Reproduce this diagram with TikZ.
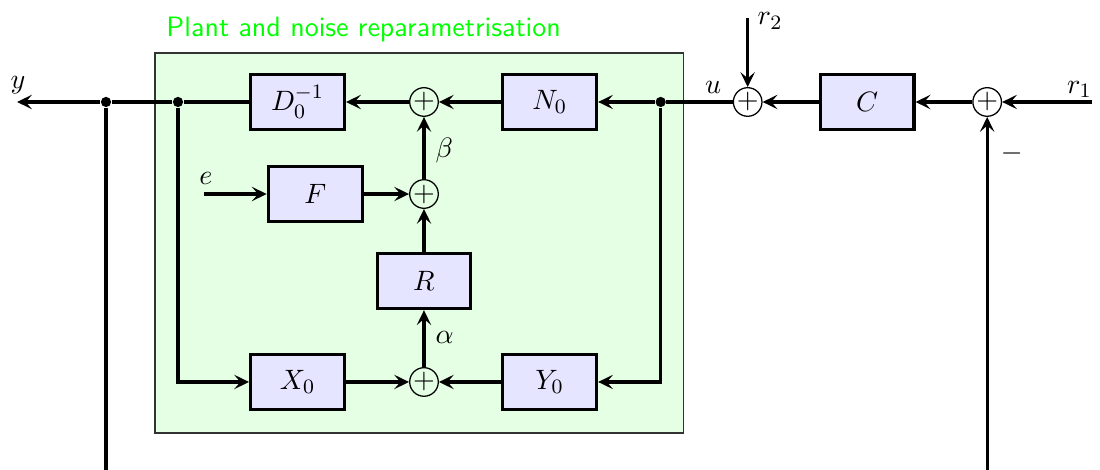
\documentclass[tikz,border=0pt,11pt]{standalone}
\usetikzlibrary{arrows.meta}

\begin{document}
\begin{tikzpicture}[
        ctrlWire/.style={draw=black,line width=1.2pt},
        ctrlArrow/.style={ctrlWire,-{Stealth[length=5.8pt,width=5.6pt,inset=2.4pt]}},
        ctrlBlock/.style={rectangle,draw=black,fill=blue!10,line width=1.2pt,
                          minimum width=1.29cm,minimum height=0.76cm,inner sep=0pt},
        ctrlSum/.style={circle,draw=black,line width=0.5pt,
                        minimum size=0.39cm,inner sep=0pt},
        ctrlDot/.style={circle,fill=black,minimum size=4pt,inner sep=0pt},
        ctrlLabel/.style={anchor=base west,inner sep=0pt},
        plantArea/.style={draw=black!80,fill=green!10,line width=0.4pt}]
        \useasboundingbox (0,0) rectangle (15.11,-6.456);

        % Shaded plant region with its title.
        \draw[plantArea] (2.129,-0.728) rectangle (9.382,-5.948);
        \node[ctrlLabel,text=green,font=\sffamily] (plantTitle) at (2.28,-0.508)
            {Plant and noise reparametrisation};

        % Main row: reference, controller, plant input and output.
        \coordinate (yOut) at (0.234,-1.401);
        \coordinate (r1In) at (15.0,-1.401);
        \coordinate (r2In) at (10.27,-0.25);
        \node[ctrlDot] (dotY) at (1.456,-1.401) {};
        \node[ctrlDot] (dotX) at (2.445,-1.401) {};
        \node[ctrlBlock] (D0inv) at (4.087,-1.401) {$D_0^{-1}$};
        \node[ctrlSum] (sumA) at (5.824,-1.401) {$+$};
        \node[ctrlBlock] (N0) at (7.55,-1.401) {$N_0$};
        \node[ctrlDot] (dotN) at (9.075,-1.401) {};
        \node[ctrlSum] (sumU) at (10.27,-1.401) {$+$};
        \node[ctrlBlock] (Cblk) at (11.91,-1.401) {$C$};
        \node[ctrlSum] (sumR) at (13.56,-1.401) {$+$};

        % Noise row.
        \coordinate (eIn) at (2.80,-2.665);
        \node[ctrlBlock] (Fblk) at (4.33,-2.665) {$F$};
        \node[ctrlSum] (sumB) at (5.824,-2.665) {$+$};

        % Youla parameter and coprime factors.
        \node[ctrlBlock] (Rblk) at (5.824,-3.86) {$R$};
        \node[ctrlBlock] (X0) at (4.087,-5.247) {$X_0$};
        \node[ctrlSum] (sumC) at (5.824,-5.247) {$+$};
        \node[ctrlBlock] (Y0) at (7.55,-5.247) {$Y_0$};

        % Feedback path, cut at the lower edge.
        \coordinate (fbL) at (1.456,-6.456);
        \coordinate (fbR) at (13.56,-6.456);

        \draw[ctrlArrow] (r1In) -- (sumR);
        \draw[ctrlArrow] (sumR) -- (Cblk);
        \draw[ctrlArrow] (Cblk) -- (sumU);
        \draw[ctrlArrow] (r2In) -- (sumU);
        \draw[ctrlWire] (sumU) -- (dotN);
        \draw[ctrlArrow] (dotN) -- (N0);
        \draw[ctrlArrow] (N0) -- (sumA);
        \draw[ctrlArrow] (sumA) -- (D0inv);
        \draw[ctrlWire] (D0inv) -- (dotX);
        \draw[ctrlWire] (dotX) -- (dotY);
        \draw[ctrlArrow] (dotY) -- (yOut);
        \draw[ctrlWire] (dotY) -- (fbL);
        \draw[ctrlArrow] (fbR) -- (sumR);

        \draw[ctrlArrow] (eIn) -- (Fblk);
        \draw[ctrlArrow] (Fblk) -- (sumB);
        \draw[ctrlArrow] (sumB) -- (sumA);
        \draw[ctrlArrow] (Rblk) -- (sumB);
        \draw[ctrlArrow] (sumC) -- (Rblk);
        \draw[ctrlArrow] (dotX) |- (X0);
        \draw[ctrlArrow] (X0) -- (sumC);
        \draw[ctrlArrow] (dotN) |- (Y0);
        \draw[ctrlArrow] (Y0) -- (sumC);

        % Signal labels.
        \node[ctrlLabel] (yLab) at (0.14,-1.21) {$y$};
        \node[ctrlLabel] (uLab) at (9.68,-1.28) {$u$};
        \node[ctrlLabel] (r1Lab) at (14.65,-1.28) {$r_1$};
        \node[ctrlLabel] (r2Lab) at (10.40,-0.343) {$r_2$};
        \node[ctrlLabel] (minusLab) at (13.74,-2.21) {$-$};
        \node[ctrlLabel] (eLab) at (2.73,-2.53) {$e$};
        \node[ctrlLabel] (betaLab) at (5.975,-2.157) {$\beta$};
        \node[ctrlLabel] (alphaLab) at (5.975,-4.725) {$\alpha$};

\end{tikzpicture}
\end{document}
